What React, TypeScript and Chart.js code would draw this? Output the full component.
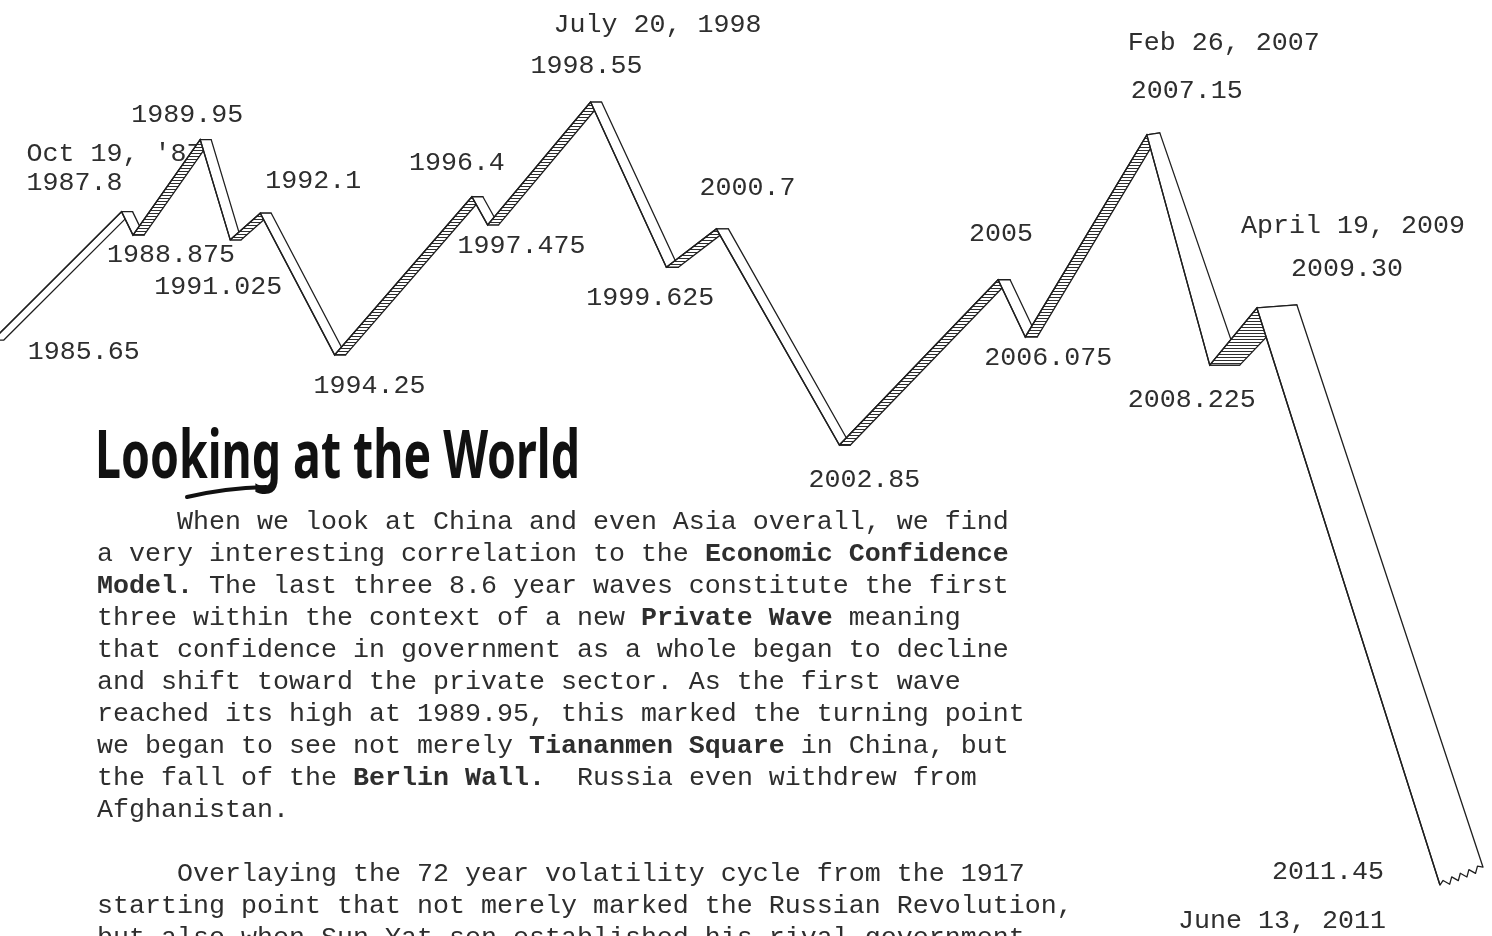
import React, { useEffect, useRef } from "react";
import { Chart, registerables } from "chart.js";

Chart.register(...registerables);

// ---------------- DATA ----------------
// Turning points of the Economic Confidence Model (decimal years)
const turnYears = [
  "1985.65", "1987.8", "1988.875", "1989.95", "1991.025", "1992.1", "1994.25",
  "1996.4", "1997.475", "1998.55", "1999.625", "2000.7", "2002.85", "2005",
  "2006.075", "2007.15", "2008.225", "2009.30", "2011.45",
];
// Horizontal position along the drawing's unlabeled time axis (0 = left edge, 100 = 2011.45)
const xPos = [-1.2, 7.8, 8.6, 13.3, 15.4, 17.5, 22.7, 32.3, 33.4, 40.6, 45.9, 49.4, 58.0, 69.1, 71.0, 79.5, 83.9, 87.2, 100];
// Confidence level on the drawing's unlabeled vertical axis (0 = 2011.45 low, 100 = 1998.55 high)
const level = [69.6, 86.0, 83.0, 95.2, 82.4, 85.8, 67.7, 87.9, 84.3, 100, 78.9, 83.8, 56.2, 77.3, 70.0, 95.8, 66.4, 73.7, 0];
// Calendar dates attached to some turning points
const noteIndex = [1, 9, 15, 17, 18];
const noteText = ["Oct 19, '87", "July 20, 1998", "Feb 26, 2007", "April 19, 2009", "June 13, 2011"];

const titleText = "Looking at the World";
const paragraphLines = [
  "     When we look at China and even Asia overall, we find",
  "a very interesting correlation to the **Economic Confidence**",
  "**Model.** The last three 8.6 year waves constitute the first",
  "three within the context of a new **Private Wave** meaning",
  "that confidence in government as a whole began to decline",
  "and shift toward the private sector. As the first wave",
  "reached its high at 1989.95, this marked the turning point",
  "we began to see not merely **Tiananmen Square** in China, but",
  "the fall of the **Berlin Wall.**  Russia even withdrew from",
  "Afghanistan.",
  "",
  "     Overlaying the 72 year volatility cycle from the 1917",
  "starting point that not merely marked the Russian Revolution,",
  "but also when Sun Yat-sen established his rival government",
];

// ---------------- STYLE ----------------
const W = 1492;
const H = 936;
const INK = "#1f1f1f";
const TEXT_COLOR = "#2e2e2e";
const MONO = "'Liberation Mono', 'DejaVu Sans Mono', monospace";
const LABEL_FONT = `26.66px ${MONO}`;
// label centre offsets (px) from each turning point
const LABEL_OFFSET: [number, number][] = [
  [91, 12], [-47, -29], [38, 20], [-13, -25], [-12, 47], [53, -32], [35, 31],
  [-15, -34], [34, 21], [-4, -36], [-16, 31], [31, -41], [25, 35], [3, -46],
  [23, 21], [40, -44], [-18, 35], [90, -39], [-112, -13],
];
const NOTE_OFFSET: [number, number][] = [[-7, -58], [67, -77], [77, -92], [96, -82], [-158, 36]];
// ribbon depth (px) at each vertex
const DEPTH: [number, number][] = [
  [11, 0], [11, 0], [11, 0], [11, 0], [11, 0], [11, 0], [11, 0], [11, 0], [11, 0],
  [11, 0], [12, 0], [12, 0], [11, 0], [12, 0], [12, 0], [13, -2], [30, 0], [40, -3], [43, -18],
];

function makeHatch(): HTMLCanvasElement {
  const c = document.createElement("canvas");
  c.width = 4;
  c.height = 3;
  const g = c.getContext("2d")!;
  g.fillStyle = "#ffffff";
  g.fillRect(0, 0, 4, 3);
  g.fillStyle = "#2e2e2e";
  g.fillRect(0, 0, 4, 1);
  return c;
}

const ribbonPlugin = {
  id: "ribbon",
  beforeDatasetsDraw(chart: any) {
    const ctx: CanvasRenderingContext2D = chart.ctx;
    const pts = chart.getDatasetMeta(0).data.map((p: any) => ({ x: p.x, y: p.y }));

    // title underline stroke (hand drawn)
    ctx.save();
    ctx.strokeStyle = "#111";
    ctx.lineWidth = 4;
    ctx.lineCap = "round";
    ctx.beginPath();
    ctx.moveTo(187, 497);
    ctx.quadraticCurveTo(225, 488, 266, 487);
    ctx.stroke();
    ctx.restore();

    // labels
    ctx.save();
    ctx.font = LABEL_FONT;
    ctx.fillStyle = TEXT_COLOR;
    ctx.textAlign = "center";
    ctx.textBaseline = "middle";
    turnYears.forEach((t, i) => {
      const [dx, dy] = LABEL_OFFSET[i];
      ctx.fillText(t, pts[i].x + dx, pts[i].y + dy);
    });
    noteIndex.forEach((idx, k) => {
      const [dx, dy] = NOTE_OFFSET[k];
      ctx.fillText(noteText[k], pts[idx].x + dx, pts[idx].y + dy);
    });
    ctx.restore();

    // ribbon bands
    const pattern = ctx.createPattern(makeHatch(), "repeat")!;
    ctx.save();
    ctx.strokeStyle = INK;
    ctx.lineWidth = 1.3;
    ctx.lineJoin = "round";
    const n = pts.length;
    for (let i = 0; i < n - 1; i++) {
      const a = pts[i];
      const b = pts[i + 1];
      const a2 = { x: a.x + DEPTH[i][0], y: a.y + DEPTH[i][1] };
      const b2 = { x: b.x + DEPTH[i + 1][0], y: b.y + DEPTH[i + 1][1] };
      const rising = b.y < a.y && i > 0;
      const last = i === n - 2;
      ctx.beginPath();
      ctx.moveTo(a.x, a.y);
      ctx.lineTo(b.x, b.y);
      if (last) {
        const steps = 10;
        const ex = b2.x - b.x;
        const ey = b2.y - b.y;
        const len = Math.hypot(ex, ey);
        const nx = -ey / len;
        const ny = ex / len;
        for (let s = 1; s < steps; s++) {
          const t = s / steps;
          const amp = s % 2 === 0 ? 3 : -3;
          ctx.lineTo(b.x + ex * t + nx * amp, b.y + ey * t + ny * amp);
        }
      }
      ctx.lineTo(b2.x, b2.y);
      ctx.lineTo(a2.x, a2.y);
      ctx.closePath();
      ctx.fillStyle = "#ffffff";
      ctx.fill();
      if (rising) {
        ctx.fillStyle = pattern;
        ctx.fill();
      }
      ctx.stroke();
    }
    ctx.restore();
  },
};

function renderLine(line: string, key: number) {
  const parts = line.split("**");
  return (
    <div key={key} style={{ height: 32 }}>
      {parts.map((p, i) => (i % 2 === 1 ? <b key={i}>{p}</b> : <span key={i}>{p}</span>))}
    </div>
  );
}

export default function App() {
  const canvasRef = useRef<HTMLCanvasElement>(null);
  const titleRef = useRef<HTMLSpanElement>(null);

  useEffect(() => {
    const t = titleRef.current;
    if (t) {
      const w = t.getBoundingClientRect().width;
      if (w > 0) t.style.transform = `scaleX(${485 / w})`;
    }
    const canvas = canvasRef.current!;
    const chart = new Chart(canvas, {
      type: "line",
      data: {
        datasets: [
          {
            label: "Economic Confidence Model",
            data: xPos.map((x, i) => ({ x, y: level[i] })),
            borderColor: INK,
            borderWidth: 1.4,
            pointRadius: 0,
            tension: 0,
            fill: false,
          },
        ],
      },
      options: {
        animation: false,
        responsive: false,
        devicePixelRatio: 1,
        layout: { padding: 0 },
        plugins: { legend: { display: false }, tooltip: { enabled: false }, title: { display: false } },
        scales: {
          x: { type: "linear", display: false, min: -0.7, max: 103.64 },
          y: { type: "linear", display: false, min: -6.51, max: 113.03 },
        },
      },
      plugins: [ribbonPlugin],
    });
    return () => chart.destroy();
  }, []);

  return (
    <div style={{ position: "fixed", left: 0, top: 0, width: W, height: H, overflow: "hidden", background: "#ffffff" }}>
      <canvas ref={canvasRef} width={W} height={H} style={{ position: "absolute", left: 0, top: 0, width: W, height: H }} />
      <div
        style={{
          position: "absolute",
          left: 95,
          top: 412,
          fontFamily: "'Noto Sans', sans-serif",
          fontWeight: 700,
          fontSize: 66,
          lineHeight: "80px",
          color: "#111",
          whiteSpace: "nowrap",
        }}
      >
        <span ref={titleRef} style={{ display: "inline-block", transformOrigin: "left center" }}>
          {titleText}
        </span>
      </div>
      <div
        style={{
          position: "absolute",
          left: 97,
          top: 506,
          fontFamily: MONO,
          fontSize: "26.66px",
          lineHeight: "32px",
          whiteSpace: "pre",
          color: TEXT_COLOR,
        }}
      >
        {paragraphLines.map((l, i) => renderLine(l, i))}
      </div>
    </div>
  );
}
